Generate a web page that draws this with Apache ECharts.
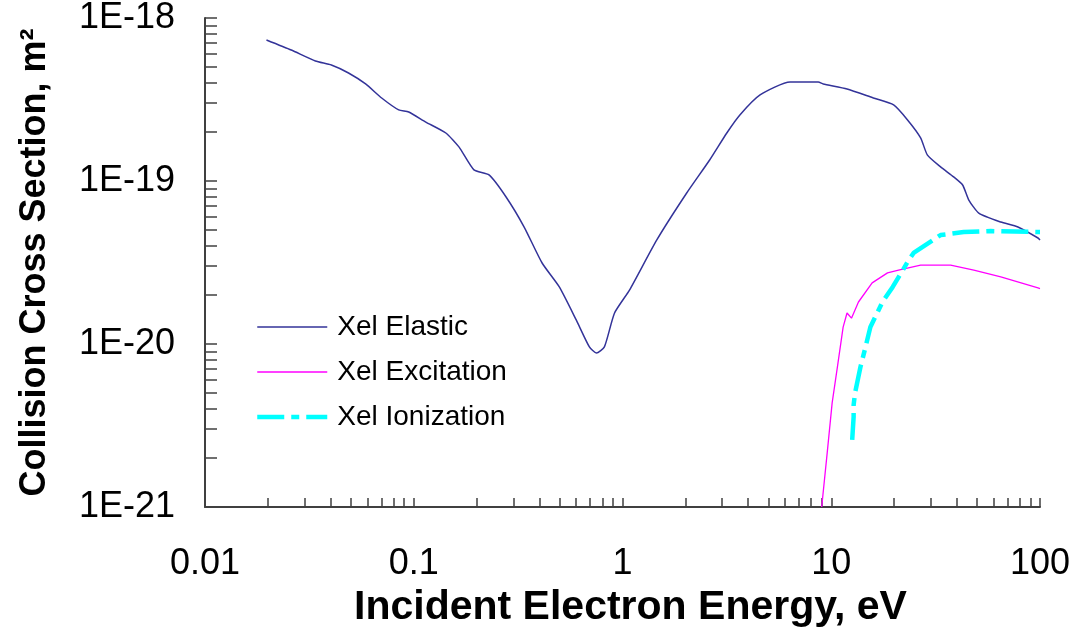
<!DOCTYPE html>
<html>
<head>
<meta charset="utf-8">
<title>Collision Cross Section</title>
<script src="https://cdn.jsdelivr.net/npm/echarts@6/dist/echarts.min.js"></script>
<style>
html, body { margin: 0; padding: 0; background: #fff; }
#chart01 { width: 1078px; height: 637px; }
</style>
</head>
<body>
<div id="chart01"></div>
<script>
// 弹性碰撞 Xel Elastic
var elasticEnergy = [0.0197, 0.0259, 0.0338, 0.0403, 0.0487, 0.0588, 0.0702, 0.0847, 0.0946, 0.1142,
    0.1425, 0.1646, 0.1943, 0.2294, 0.2769, 0.338, 0.412, 0.498, 0.601, 0.694,
    0.750, 0.819, 0.916, 1.08, 1.46, 2.03, 2.62, 3.16, 3.65, 4.56,
    6.35, 8.66, 9.15, 11.9, 15.9, 19.9, 23.2, 26.8, 28.9, 33.4,
    38.6, 42.6, 45.6, 50.9, 64.9, 78.4, 97.8, 100];
var elasticSigma = [7.33e-19, 6.36e-19, 5.45e-19, 5.15e-19, 4.60e-19, 3.94e-19, 3.23e-19, 2.73e-19, 2.65e-19, 2.30e-19,
    1.97e-19, 1.62e-19, 1.17e-19, 1.09e-19, 7.98e-20, 5.22e-20, 3.14e-20, 2.24e-20, 1.40e-20, 9.6e-21,
    8.8e-21, 9.6e-21, 1.55e-20, 2.14e-20, 4.35e-20, 8.44e-20, 1.35e-19, 1.97e-19, 2.54e-19, 3.37e-19,
    4.05e-19, 4.05e-19, 3.94e-19, 3.67e-19, 3.23e-19, 2.93e-19, 2.37e-19, 1.84e-19, 1.44e-19, 1.22e-19,
    1.06e-19, 9.45e-20, 7.64e-20, 6.36e-20, 5.60e-20, 5.22e-20, 4.47e-20, 4.35e-20];

// 激发 Xel Excitation
var excitationEnergy = [9.0, 9.56, 10.1, 10.7, 11.4, 11.9, 12.5, 13.5, 15.7, 18.6,
    21.0, 26.8, 37.3, 48.2, 64.9, 97.8, 100];
var excitationSigma = [1.0e-21, 2.14e-21, 4.35e-21, 7.22e-21, 1.27e-20, 1.55e-20, 1.44e-20, 1.81e-20, 2.37e-20, 2.73e-20,
    2.84e-20, 3.05e-20, 3.05e-20, 2.84e-20, 2.58e-20, 2.21e-20, 2.19e-20];

// 电离 Xel Ionization
var ionizationEnergy = [12.6, 12.8, 12.8, 13.0, 13.8, 14.6, 15.4, 17.6, 19.7, 23.2,
    24.8, 33.4, 43.1, 58.1, 97.8, 100];
var ionizationSigma = [2.58e-21, 3.57e-21, 4.23e-21, 5.0e-21, 7.22e-21, 9.6e-21, 1.27e-20, 1.81e-20, 2.24e-20, 3.18e-20,
    3.62e-20, 4.66e-20, 4.86e-20, 4.93e-20, 4.86e-20, 4.86e-20];

// 坐标刻度
var xTickValues = [0.01, 0.02, 0.03, 0.04, 0.05, 0.06, 0.07, 0.08, 0.09,
    0.1, 0.2, 0.3, 0.4, 0.5, 0.6, 0.7, 0.8, 0.9,
    1, 2, 3, 4, 5, 6, 7, 8, 9,
    10, 20, 30, 40, 50, 60, 70, 80, 90, 100];
var xLabelValues = [0.01, 0.1, 1, 10, 100];
var yTickValues = [1e-21, 2e-21, 3e-21, 4e-21, 5e-21, 6e-21, 7e-21, 8e-21, 9e-21,
    1e-20, 2e-20, 3e-20, 4e-20, 5e-20, 6e-20, 7e-20, 8e-20, 9e-20,
    1e-19, 2e-19, 3e-19, 4e-19, 5e-19, 6e-19, 7e-19, 8e-19, 9e-19, 1e-18];
var yLabelValues = [1e-21, 1e-20, 1e-19, 1e-18];

function pairs(xs, ys) {
    var out = [];
    for (var i = 0; i < xs.length; i++) {
        out.push([xs[i], ys[i]]);
    }
    return out;
}

var myChart = echarts.init(document.getElementById('chart01'));
var fontName = 'Liberation Sans, Arial, sans-serif';

var option = {
    animation: false,
    backgroundColor: '#fff',
    textStyle: { fontFamily: fontName },
    grid: {
        left: 205,
        right: 38,
        top: 18,
        bottom: 130,
        containLabel: false
    },
    legend: {
        orient: 'vertical',
        left: 250,
        top: 307,
        itemWidth: 70,
        itemHeight: 14,
        itemGap: 15,
        itemStyle: { opacity: 0 },
        lineStyle: { width: 'inherit' },
        textStyle: {
            fontFamily: fontName,
            fontSize: 28,
            color: '#000',
            lineHeight: 30,
            padding: [0, 0, 0, 5]
        },
        data: ['Xel Elastic', 'Xel Excitation', 'Xel Ionization']
    },
    xAxis: {
        type: 'log',
        logBase: 10,
        min: 0.01,
        max: 100,
        name: 'Incident Electron Energy, eV',
        nameLocation: 'middle',
        nameGap: 80,
        nameTextStyle: {
            fontFamily: fontName,
            fontSize: 41,
            fontWeight: 'bold',
            color: '#000',
            padding: [0, 0, 0, 16]
        },
        axisLine: { show: true, lineStyle: { color: '#404040', width: 2 } },
        axisTick: {
            show: true,
            inside: true,
            length: 9,
            lineStyle: { color: '#404040', width: 1.5 },
            customValues: xTickValues
        },
        axisLabel: {
            fontFamily: fontName,
            fontSize: 36,
            color: '#000',
            margin: 39,
            customValues: xLabelValues,
            formatter: function (v) { return String(+v.toPrecision(3)); }
        },
        splitLine: { show: false },
        minorTick: { show: false }
    },
    yAxis: {
        type: 'log',
        logBase: 10,
        min: 1e-21,
        max: 1e-18,
        name: 'Collision Cross Section, m\u00B2',
        nameLocation: 'middle',
        nameRotate: 90,
        nameGap: 152,
        nameTextStyle: {
            fontFamily: fontName,
            fontSize: 36,
            fontWeight: 'bold',
            color: '#000'
        },
        axisLine: { show: true, lineStyle: { color: '#404040', width: 2 } },
        axisTick: {
            show: true,
            inside: true,
            length: 12,
            lineStyle: { color: '#404040', width: 1.5 },
            customValues: yTickValues
        },
        axisLabel: {
            fontFamily: fontName,
            fontSize: 36,
            color: '#000',
            margin: 30,
            customValues: yLabelValues,
            formatter: function (v) { return '1E' + Math.round(Math.log10(v)); }
        },
        splitLine: { show: false }
    },
    series: [
        {
            name: 'Xel Elastic',
            type: 'line',
            symbol: 'none',
            smooth: 0.2,
            color: '#333399',
            lineStyle: { color: '#333399', width: 1.5 },
            data: pairs(elasticEnergy, elasticSigma)
        },
        {
            name: 'Xel Excitation',
            type: 'line',
            symbol: 'none',
            color: '#ff00ff',
            lineStyle: { color: '#ff00ff', width: 1.3 },
            data: pairs(excitationEnergy, excitationSigma)
        },
        {
            name: 'Xel Ionization',
            type: 'line',
            symbol: 'none',
            color: '#00ffff',
            lineStyle: { color: '#00ffff', width: 4.5, type: [27, 7, 8, 7] },
            data: pairs(ionizationEnergy, ionizationSigma)
        }
    ]
};

myChart.setOption(option);
</script>
</body>
</html>
